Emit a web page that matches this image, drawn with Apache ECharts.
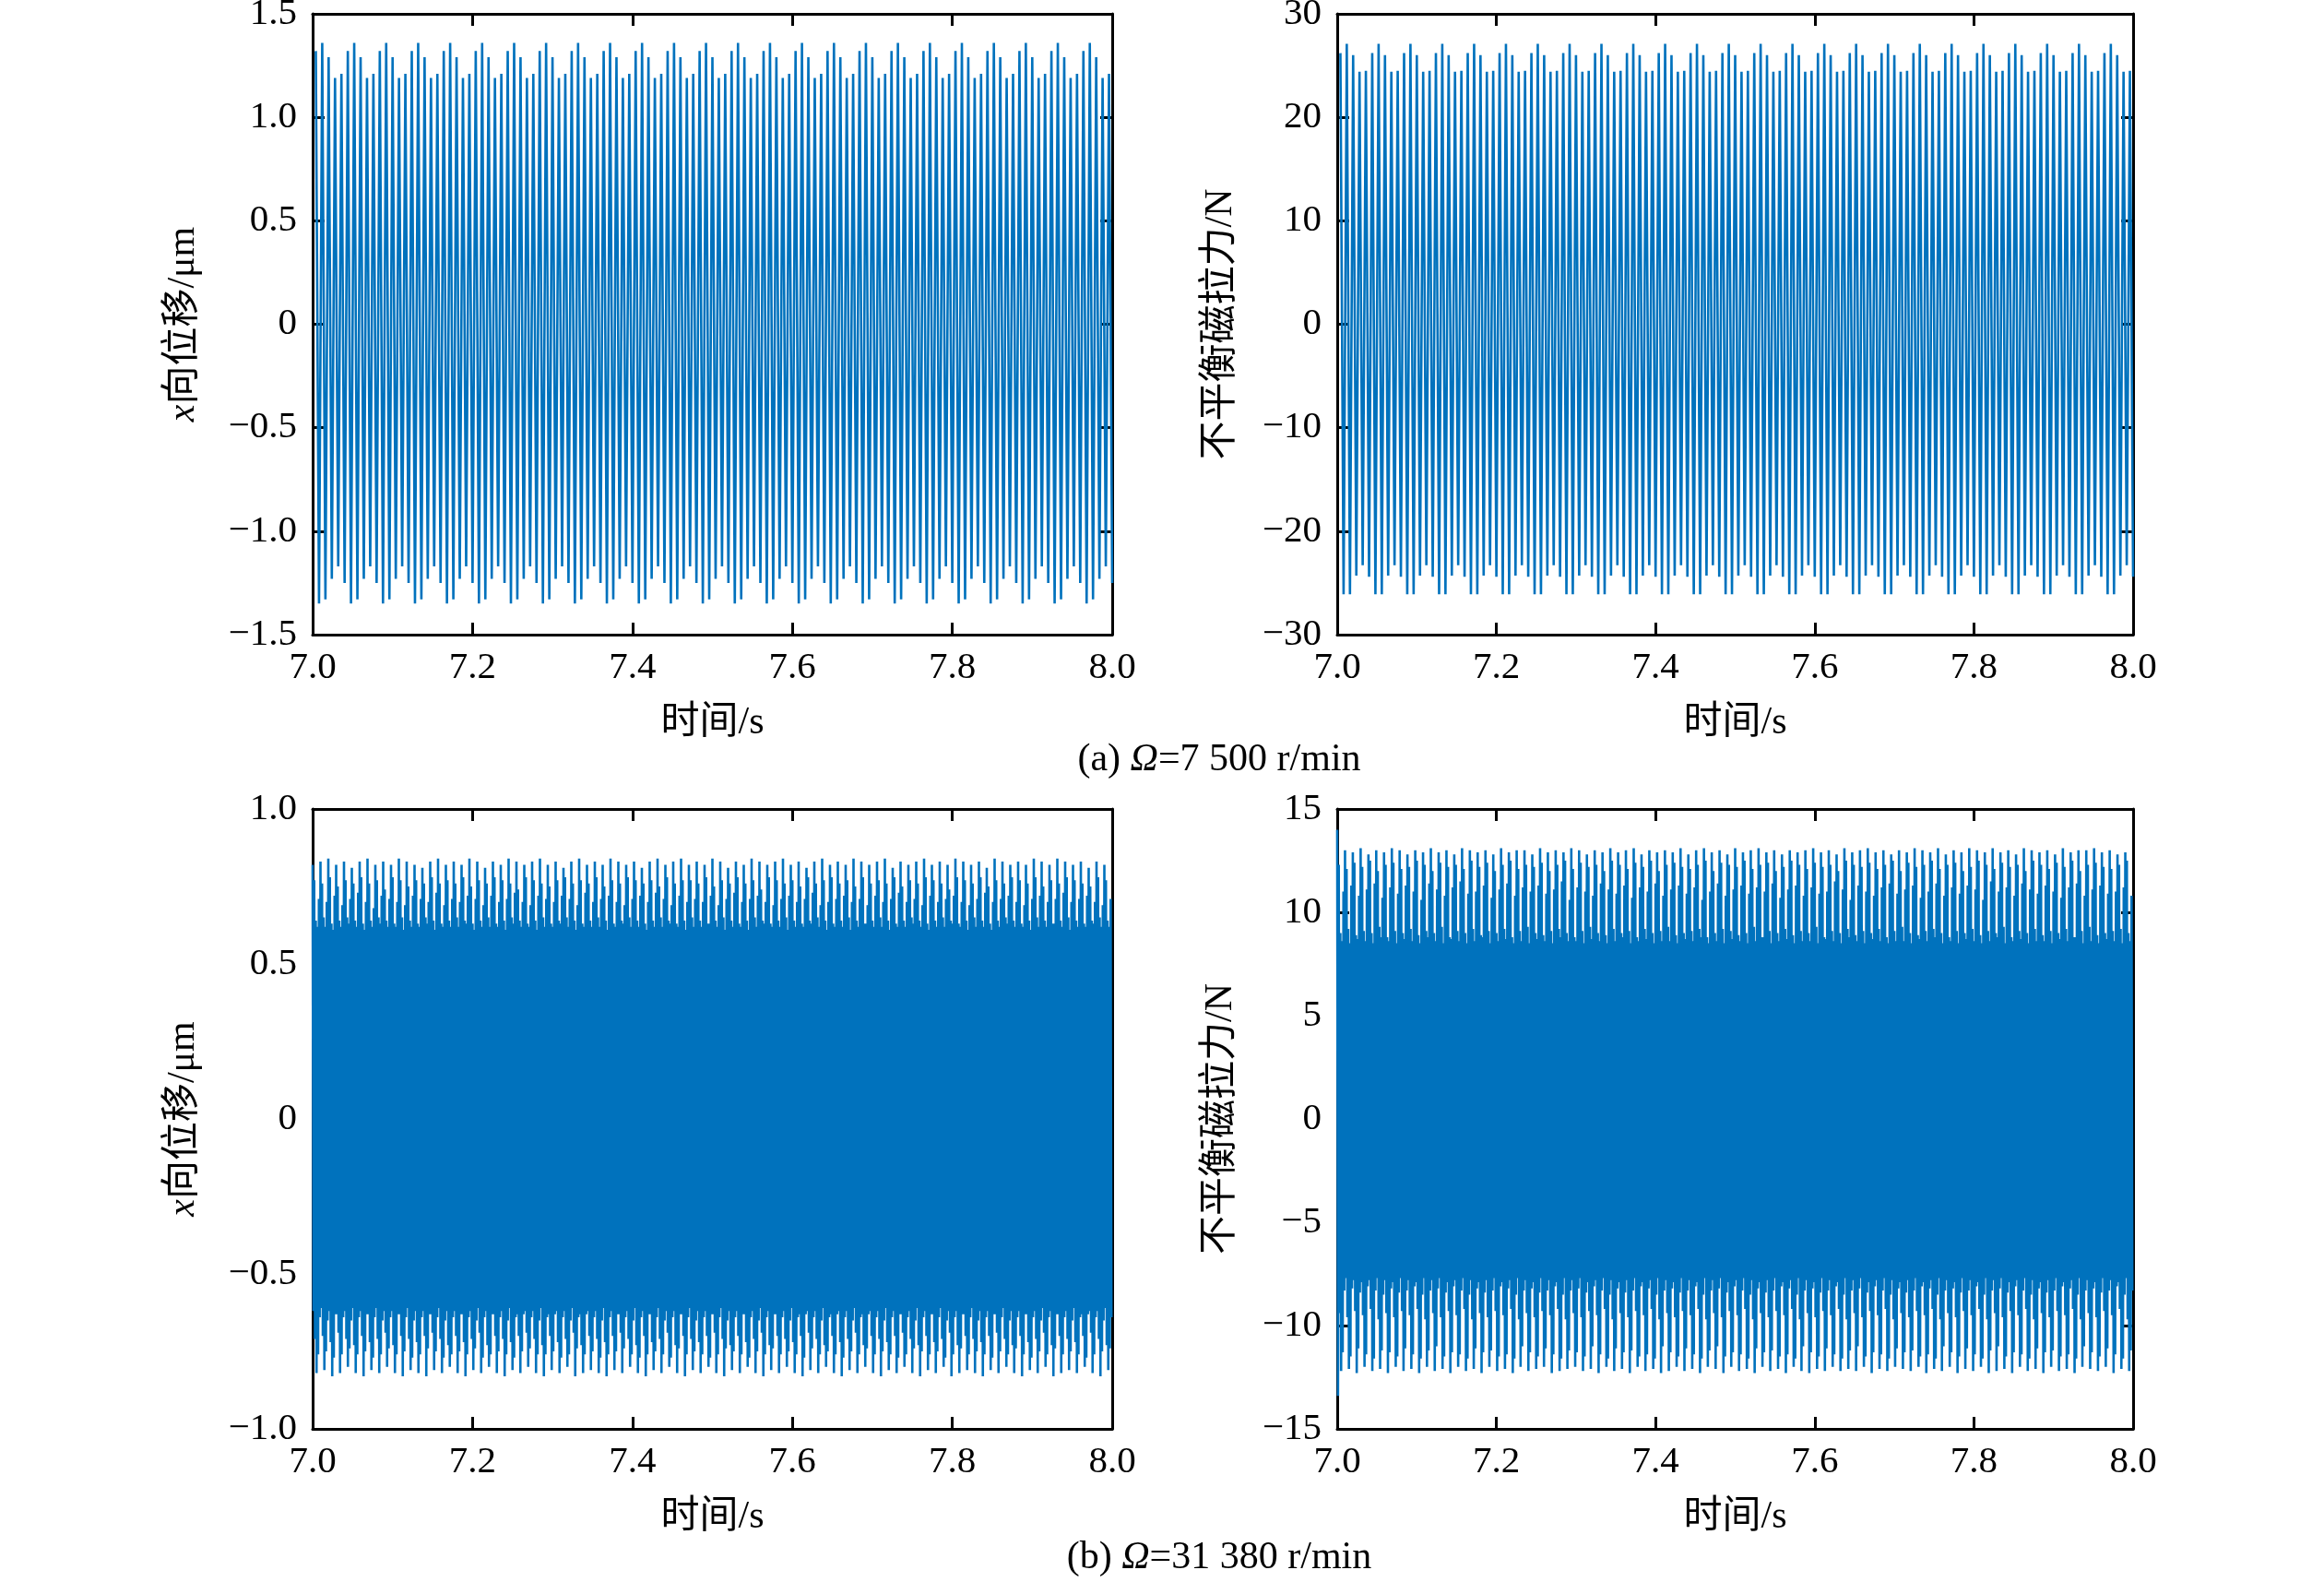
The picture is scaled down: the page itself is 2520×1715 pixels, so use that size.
<!DOCTYPE html>
<html><head><meta charset="utf-8">
<script src="https://cdn.jsdelivr.net/npm/echarts@6/dist/echarts.min.js"></script>
<style>html,body{margin:0;padding:0;background:#fff}#c{width:2520px;height:1715px}</style>
</head><body><div id="c"></div>
<script>
// ---------- axis definitions ----------
const timeRange = [7.0, 8.0, 0.2];            // x: min, max, interval (s)
const yRangeA_disp = [-1.5, 1.5, 0.5];        // (a) x displacement (μm)
const yRangeA_force = [-30, 30, 10];          // (a) unbalanced magnetic pull (N)
const yRangeB_disp = [-1.0, 1.0, 0.5];        // (b) x displacement (μm)
const yRangeB_force = [-15, 15, 5];           // (b) unbalanced magnetic pull (N)
const xName = '时间/s';
const yNameDisp = '{i|x}向位移/μm';
const yNameForce = '不平衡磁拉力/N';
const captions = ['(a) {i|Ω}=7 500 r/min', '(b) {i|Ω}=31 380 r/min'];
const phaseA = 0.004;   // time of first peak after 7.0 s, panel (a)
const phaseB = 0.0;     // panel (b)

// ---------- (a) Ω=7500 r/min : per-cycle peak / trough values ----------
const aDispPeaks = [
1.32,1.36,1.29,1.19,1.21, 1.32,1.36,1.29,1.19,1.21, 1.32,1.36,1.29,1.19,1.21, 1.32,1.36,1.29,1.19,1.21, 1.32,1.36,1.29,1.19,1.21,
1.32,1.36,1.29,1.19,1.21, 1.32,1.36,1.29,1.19,1.21, 1.32,1.36,1.29,1.19,1.21, 1.32,1.36,1.29,1.19,1.21, 1.32,1.36,1.29,1.19,1.21,
1.32,1.36,1.29,1.19,1.21, 1.32,1.36,1.29,1.19,1.21, 1.32,1.36,1.29,1.19,1.21, 1.32,1.36,1.29,1.19,1.21, 1.32,1.36,1.29,1.19,1.21,
1.32,1.36,1.29,1.19,1.21, 1.32,1.36,1.29,1.19,1.21, 1.32,1.36,1.29,1.19,1.21, 1.32,1.36,1.29,1.19,1.21, 1.32,1.36,1.29,1.19,1.21,
1.32,1.36,1.29,1.19,1.21, 1.32,1.36,1.29,1.19,1.21, 1.32,1.36,1.29,1.19,1.21, 1.32,1.36,1.29,1.19,1.21, 1.32,1.36,1.29,1.19,1.21
];
const aDispTroughs = [
-1.35,-1.33,-1.23,-1.17,-1.25, -1.35,-1.33,-1.23,-1.17,-1.25, -1.35,-1.33,-1.23,-1.17,-1.25, -1.35,-1.33,-1.23,-1.17,-1.25, -1.35,-1.33,-1.23,-1.17,-1.25,
-1.35,-1.33,-1.23,-1.17,-1.25, -1.35,-1.33,-1.23,-1.17,-1.25, -1.35,-1.33,-1.23,-1.17,-1.25, -1.35,-1.33,-1.23,-1.17,-1.25, -1.35,-1.33,-1.23,-1.17,-1.25,
-1.35,-1.33,-1.23,-1.17,-1.25, -1.35,-1.33,-1.23,-1.17,-1.25, -1.35,-1.33,-1.23,-1.17,-1.25, -1.35,-1.33,-1.23,-1.17,-1.25, -1.35,-1.33,-1.23,-1.17,-1.25,
-1.35,-1.33,-1.23,-1.17,-1.25, -1.35,-1.33,-1.23,-1.17,-1.25, -1.35,-1.33,-1.23,-1.17,-1.25, -1.35,-1.33,-1.23,-1.17,-1.25, -1.35,-1.33,-1.23,-1.17,-1.25,
-1.35,-1.33,-1.23,-1.17,-1.25, -1.35,-1.33,-1.23,-1.17,-1.25, -1.35,-1.33,-1.23,-1.17,-1.25, -1.35,-1.33,-1.23,-1.17,-1.25, -1.35,-1.33,-1.23,-1.17,-1.25
];
const aForcePeaks = [
26.2,27.1,26.0,24.4,24.5, 26.2,27.1,26.0,24.4,24.5, 26.2,27.1,26.0,24.4,24.5, 26.2,27.1,26.0,24.4,24.5, 26.2,27.1,26.0,24.4,24.5,
26.2,27.1,26.0,24.4,24.5, 26.2,27.1,26.0,24.4,24.5, 26.2,27.1,26.0,24.4,24.5, 26.2,27.1,26.0,24.4,24.5, 26.2,27.1,26.0,24.4,24.5,
26.2,27.1,26.0,24.4,24.5, 26.2,27.1,26.0,24.4,24.5, 26.2,27.1,26.0,24.4,24.5, 26.2,27.1,26.0,24.4,24.5, 26.2,27.1,26.0,24.4,24.5,
26.2,27.1,26.0,24.4,24.5, 26.2,27.1,26.0,24.4,24.5, 26.2,27.1,26.0,24.4,24.5, 26.2,27.1,26.0,24.4,24.5, 26.2,27.1,26.0,24.4,24.5,
26.2,27.1,26.0,24.4,24.5, 26.2,27.1,26.0,24.4,24.5, 26.2,27.1,26.0,24.4,24.5, 26.2,27.1,26.0,24.4,24.5, 26.2,27.1,26.0,24.4,24.5
];
const aForceTroughs = [
-26.1,-26.1,-24.3,-23.3,-24.4, -26.1,-26.1,-24.3,-23.3,-24.4, -26.1,-26.1,-24.3,-23.3,-24.4, -26.1,-26.1,-24.3,-23.3,-24.4, -26.1,-26.1,-24.3,-23.3,-24.4,
-26.1,-26.1,-24.3,-23.3,-24.4, -26.1,-26.1,-24.3,-23.3,-24.4, -26.1,-26.1,-24.3,-23.3,-24.4, -26.1,-26.1,-24.3,-23.3,-24.4, -26.1,-26.1,-24.3,-23.3,-24.4,
-26.1,-26.1,-24.3,-23.3,-24.4, -26.1,-26.1,-24.3,-23.3,-24.4, -26.1,-26.1,-24.3,-23.3,-24.4, -26.1,-26.1,-24.3,-23.3,-24.4, -26.1,-26.1,-24.3,-23.3,-24.4,
-26.1,-26.1,-24.3,-23.3,-24.4, -26.1,-26.1,-24.3,-23.3,-24.4, -26.1,-26.1,-24.3,-23.3,-24.4, -26.1,-26.1,-24.3,-23.3,-24.4, -26.1,-26.1,-24.3,-23.3,-24.4,
-26.1,-26.1,-24.3,-23.3,-24.4, -26.1,-26.1,-24.3,-23.3,-24.4, -26.1,-26.1,-24.3,-23.3,-24.4, -26.1,-26.1,-24.3,-23.3,-24.4, -26.1,-26.1,-24.3,-23.3,-24.4
];

// ---------- (b) Ω=31380 r/min : per-cycle peak / trough values ----------
const bDispPeaks = [
0.82,0.77,0.64,0.62,0.71, 0.83,0.76,0.65,0.62,0.70, 0.84,0.78,0.63,0.61,0.72, 0.82,0.75,0.64,0.62,0.69, 0.83,0.77,0.65,0.63,0.71, 0.81,0.76,0.64,0.62,0.73,
0.83,0.78,0.63,0.61,0.70, 0.84,0.76,0.64,0.62,0.68, 0.82,0.77,0.65,0.63,0.72, 0.83,0.74,0.64,0.62,0.71, 0.82,0.78,0.63,0.62,0.70, 0.84,0.77,0.65,0.61,0.69,
0.83,0.75,0.64,0.62,0.72, 0.82,0.77,0.63,0.62,0.71, 0.81,0.76,0.65,0.63,0.70, 0.83,0.78,0.64,0.61,0.73, 0.84,0.76,0.63,0.62,0.69, 0.82,0.77,0.64,0.62,0.71,
0.83,0.76,0.65,0.62,0.70, 0.82,0.78,0.64,0.63,0.72, 0.84,0.75,0.63,0.61,0.71, 0.83,0.77,0.64,0.62,0.69, 0.81,0.76,0.65,0.62,0.72, 0.83,0.78,0.63,0.62,0.70,
0.82,0.77,0.64,0.61,0.71, 0.84,0.76,0.65,0.63,0.73, 0.83,0.74,0.64,0.62,0.70, 0.82,0.78,0.63,0.62,0.69, 0.83,0.77,0.64,0.61,0.72, 0.84,0.76,0.65,0.62,0.71,
0.82,0.75,0.63,0.62,0.70, 0.83,0.77,0.64,0.63,0.72, 0.81,0.78,0.65,0.62,0.71, 0.83,0.76,0.64,0.61,0.69, 0.84,0.77,0.63,0.62,0.73, 0.82,0.76,0.64,0.62,0.70,
0.83,0.78,0.65,0.62,0.71, 0.82,0.75,0.64,0.61,0.72, 0.84,0.77,0.63,0.62,0.70, 0.83,0.76,0.64,0.63,0.69, 0.82,0.78,0.65,0.62,0.71, 0.83,0.77,0.64,0.62,0.72,
0.81,0.76,0.63,0.61,0.70, 0.83,0.77,0.64,0.62,0.73, 0.84,0.75,0.65,0.62,0.71, 0.82,0.78,0.64,0.63,0.69, 0.83,0.76,0.63,0.62,0.72, 0.84,0.77,0.64,0.61,0.70,
0.82,0.77,0.65,0.62,0.71, 0.83,0.76,0.64,0.62,0.70, 0.82,0.78,0.63,0.63,0.72, 0.84,0.75,0.64,0.62,0.69, 0.83,0.77,0.65,0.61,0.71, 0.81,0.76,0.64,0.62,0.73,
0.83,0.78,0.63,0.62,0.70, 0.82,0.76,0.64,0.61,0.71, 0.84,0.77,0.65,0.62,0.72, 0.83,0.74,0.64,0.63,0.70, 0.82,0.78,0.63,0.62,0.69, 0.83,0.77,0.64,0.62,0.71,
0.84,0.76,0.65,0.61,0.72, 0.82,0.77,0.64,0.62,0.70, 0.83,0.75,0.63,0.62,0.71, 0.81,0.78,0.64,0.63,0.73, 0.83,0.76,0.65,0.62,0.69, 0.84,0.77,0.64,0.61,0.70,
0.82,0.78,0.63,0.62,0.71, 0.83,0.76,0.64,0.62,0.72, 0.82,0.77,0.65,0.61,0.70, 0.84,0.75,0.64,0.62,0.71, 0.83,0.78,0.63,0.63,0.69, 0.82,0.76,0.64,0.62,0.72,
0.83,0.77,0.65,0.62,0.70, 0.84,0.76,0.64,0.61,0.71, 0.81,0.78,0.63,0.62,0.73, 0.83,0.75,0.64,0.62,0.70, 0.82,0.77,0.65,0.63,0.71, 0.83,0.76,0.64,0.62,0.69,
0.84,0.78,0.63,0.61,0.72, 0.82,0.77,0.64,0.62,0.70, 0.83,0.76,0.65,0.62,0.71, 0.82,0.74,0.64,0.63,0.72, 0.84,0.78,0.63,0.62,0.70, 0.83,0.77,0.64,0.61,0.69,
0.82,0.76,0.65,0.62,0.71, 0.83,0.78,0.64,0.62,0.73, 0.81,0.75,0.63,0.61,0.70, 0.84,0.77,0.64,0.62,0.71, 0.83,0.76,0.65,0.63,0.72, 0.82,0.78,0.64,0.62,0.70,
0.83,0.77,0.63,0.62,0.69, 0.82,0.76,0.64,0.61,0.71, 0.84,0.78,0.65,0.62,0.72, 0.83,0.75,0.64,0.62,0.70, 0.82,0.77,0.63,0.63,0.71, 0.84,0.76,0.64,0.62,0.73,
0.83,0.78,0.65,0.61,0.70, 0.82,0.77,0.64,0.62,0.71, 0.83,0.76,0.63,0.62,0.72, 0.81,0.75,0.64,0.63,0.70, 0.83,0.78,0.65,0.62,0.69, 0.82,0.77,0.64,0.62,0.71
];
const bDispTroughs = [
-0.62,-0.71,-0.82,-0.76,-0.64, -0.61,-0.70,-0.81,-0.75,-0.65, -0.62,-0.72,-0.83,-0.77,-0.63, -0.63,-0.69,-0.82,-0.76,-0.64, -0.62,-0.71,-0.80,-0.74,-0.65, -0.61,-0.73,-0.82,-0.76,-0.64,
-0.62,-0.70,-0.83,-0.75,-0.63, -0.63,-0.72,-0.81,-0.77,-0.64, -0.61,-0.71,-0.82,-0.76,-0.65, -0.62,-0.69,-0.80,-0.74,-0.64, -0.62,-0.73,-0.82,-0.76,-0.63, -0.63,-0.70,-0.83,-0.75,-0.64,
-0.61,-0.71,-0.81,-0.77,-0.65, -0.62,-0.72,-0.82,-0.76,-0.64, -0.62,-0.70,-0.83,-0.74,-0.63, -0.63,-0.69,-0.81,-0.75,-0.64, -0.61,-0.71,-0.82,-0.77,-0.65, -0.62,-0.73,-0.80,-0.76,-0.64,
-0.62,-0.70,-0.82,-0.75,-0.63, -0.63,-0.72,-0.83,-0.76,-0.64, -0.62,-0.71,-0.81,-0.74,-0.65, -0.61,-0.69,-0.82,-0.77,-0.64, -0.62,-0.73,-0.80,-0.76,-0.63, -0.63,-0.70,-0.82,-0.75,-0.64,
-0.62,-0.71,-0.83,-0.76,-0.65, -0.61,-0.72,-0.81,-0.77,-0.64, -0.63,-0.70,-0.82,-0.75,-0.63, -0.62,-0.69,-0.80,-0.74,-0.64, -0.62,-0.71,-0.82,-0.76,-0.65, -0.61,-0.73,-0.83,-0.76,-0.64,
-0.63,-0.70,-0.81,-0.75,-0.63, -0.62,-0.72,-0.82,-0.77,-0.64, -0.62,-0.71,-0.80,-0.76,-0.65, -0.61,-0.69,-0.83,-0.74,-0.64, -0.63,-0.73,-0.82,-0.76,-0.63, -0.62,-0.70,-0.81,-0.75,-0.64,
-0.62,-0.71,-0.82,-0.77,-0.65, -0.61,-0.72,-0.83,-0.76,-0.64, -0.62,-0.70,-0.81,-0.75,-0.63, -0.63,-0.69,-0.82,-0.74,-0.64, -0.62,-0.71,-0.80,-0.76,-0.65, -0.61,-0.73,-0.82,-0.77,-0.64,
-0.62,-0.70,-0.83,-0.76,-0.63, -0.63,-0.72,-0.81,-0.75,-0.64, -0.61,-0.71,-0.82,-0.76,-0.65, -0.62,-0.69,-0.80,-0.77,-0.64, -0.62,-0.73,-0.82,-0.74,-0.63, -0.63,-0.70,-0.83,-0.76,-0.64,
-0.61,-0.71,-0.81,-0.75,-0.65, -0.62,-0.72,-0.82,-0.76,-0.64, -0.62,-0.70,-0.80,-0.77,-0.63, -0.63,-0.69,-0.82,-0.76,-0.64, -0.61,-0.71,-0.83,-0.74,-0.65, -0.62,-0.73,-0.81,-0.75,-0.64,
-0.62,-0.70,-0.82,-0.76,-0.63, -0.63,-0.72,-0.80,-0.77,-0.64, -0.62,-0.71,-0.82,-0.75,-0.65, -0.61,-0.69,-0.83,-0.76,-0.64, -0.62,-0.73,-0.81,-0.74,-0.63, -0.63,-0.70,-0.82,-0.76,-0.64,
-0.62,-0.71,-0.80,-0.75,-0.65, -0.61,-0.72,-0.82,-0.76,-0.64, -0.63,-0.70,-0.83,-0.77,-0.63, -0.62,-0.69,-0.81,-0.74,-0.64, -0.62,-0.71,-0.82,-0.76,-0.65, -0.61,-0.73,-0.80,-0.75,-0.64,
-0.63,-0.70,-0.82,-0.76,-0.63, -0.62,-0.72,-0.83,-0.77,-0.64, -0.62,-0.71,-0.81,-0.75,-0.65, -0.61,-0.69,-0.82,-0.76,-0.64, -0.63,-0.73,-0.80,-0.74,-0.63, -0.62,-0.70,-0.82,-0.76,-0.64,
-0.62,-0.71,-0.83,-0.75,-0.65, -0.61,-0.72,-0.81,-0.76,-0.64, -0.62,-0.70,-0.82,-0.77,-0.63, -0.63,-0.69,-0.80,-0.76,-0.64, -0.62,-0.71,-0.82,-0.74,-0.65, -0.61,-0.73,-0.83,-0.75,-0.64,
-0.62,-0.70,-0.81,-0.76,-0.63, -0.63,-0.72,-0.82,-0.75,-0.64, -0.61,-0.71,-0.80,-0.77,-0.65, -0.62,-0.69,-0.83,-0.76,-0.64, -0.62,-0.73,-0.82,-0.74,-0.63, -0.63,-0.70,-0.81,-0.76,-0.64,
-0.61,-0.71,-0.82,-0.75,-0.65, -0.62,-0.72,-0.83,-0.76,-0.64, -0.62,-0.70,-0.81,-0.77,-0.63, -0.63,-0.69,-0.82,-0.75,-0.64, -0.61,-0.71,-0.80,-0.76,-0.65, -0.62,-0.73,-0.82,-0.74,-0.64,
-0.62,-0.70,-0.83,-0.76,-0.63, -0.63,-0.72,-0.81,-0.77,-0.64, -0.62,-0.71,-0.82,-0.75,-0.65, -0.61,-0.69,-0.80,-0.76,-0.64, -0.62,-0.73,-0.83,-0.74,-0.63, -0.63,-0.70,-0.82,-0.76,-0.64,
-0.62,-0.71,-0.81,-0.75,-0.65, -0.61,-0.72,-0.82,-0.76,-0.64, -0.63,-0.70,-0.80,-0.77,-0.63, -0.62,-0.69,-0.82,-0.76,-0.64, -0.62,-0.71,-0.83,-0.75,-0.65, -0.61,-0.73,-0.81,-0.74,-0.64
];
const bForcePeaks = [
14.0,12.3,9.0,8.6,11.0, 13.0,12.1,9.2,8.5,11.3, 12.9,12.4,8.9,8.7,10.8, 13.1,12.2,9.1,8.6,11.1, 12.8,12.5,9.0,8.5,11.4, 13.0,12.0,9.3,8.8,10.7,
12.9,12.3,8.8,8.6,11.2, 13.1,12.4,9.1,8.5,10.9, 13.0,12.1,9.0,8.7,11.3, 12.8,12.2,9.2,8.6,11.0, 13.0,12.5,8.9,8.5,10.6, 12.9,12.3,9.1,8.8,11.4,
13.1,12.0,9.0,8.6,11.1, 12.9,12.4,9.3,8.5,10.8, 13.0,12.2,8.8,8.7,11.2, 12.8,12.3,9.1,8.6,11.5, 13.1,12.1,9.0,8.5,10.9, 13.0,12.5,9.2,8.6,11.0,
12.9,12.2,8.9,8.8,11.3, 13.0,12.4,9.1,8.5,10.7, 12.8,12.0,9.0,8.6,11.1, 13.1,12.3,9.2,8.7,11.4, 12.9,12.5,8.8,8.5,10.8, 13.0,12.1,9.1,8.6,11.2,
13.0,12.3,9.3,8.5,11.0, 12.8,12.2,9.0,8.7,11.3, 13.1,12.4,8.9,8.6,10.9, 12.9,12.0,9.1,8.5,11.1, 13.0,12.3,9.2,8.8,11.5, 12.9,12.5,9.0,8.6,10.6,
13.1,12.1,8.8,8.6,11.2, 13.0,12.4,9.1,8.5,11.0, 12.8,12.2,9.3,8.7,10.8, 13.0,12.3,9.0,8.6,11.4, 12.9,12.0,8.9,8.5,11.1, 13.1,12.5,9.2,8.6,10.9,
12.9,12.3,9.0,8.8,11.3, 13.0,12.1,9.1,8.5,10.7, 13.1,12.4,8.8,8.6,11.2, 12.8,12.2,9.2,8.7,11.0, 13.0,12.5,9.0,8.5,11.4, 12.9,12.0,9.1,8.6,10.8,
13.0,12.3,9.3,8.6,11.1, 12.9,12.4,8.9,8.5,11.3, 13.1,12.2,9.0,8.7,10.9, 12.8,12.1,9.1,8.6,11.2, 13.0,12.3,9.2,8.8,10.6, 13.1,12.5,8.8,8.5,11.0,
12.9,12.0,9.0,8.6,11.4, 13.0,12.4,9.2,8.5,10.8, 12.8,12.3,9.1,8.7,11.1, 13.1,12.2,8.9,8.6,11.3, 12.9,12.5,9.0,8.5,10.9, 13.0,12.1,9.3,8.6,11.2,
13.1,12.3,8.8,8.8,11.0, 12.9,12.4,9.1,8.5,11.4, 13.0,12.0,9.0,8.6,10.7, 12.8,12.2,9.2,8.7,11.1, 13.0,12.5,8.9,8.5,11.3, 12.9,12.3,9.1,8.6,10.8,
13.0,12.1,9.0,8.6,11.2, 13.1,12.4,9.3,8.5,10.9, 12.9,12.2,8.8,8.7,11.0, 13.0,12.3,9.1,8.6,11.5, 12.8,12.0,9.0,8.5,11.1, 13.1,12.5,9.2,8.8,10.6,
12.9,12.3,8.9,8.6,11.3, 13.0,12.2,9.1,8.5,11.0, 13.1,12.4,9.0,8.7,10.8, 12.9,12.1,9.2,8.6,11.2, 13.0,12.3,8.8,8.5,11.4, 12.8,12.5,9.1,8.6,10.9,
13.0,12.0,9.3,8.6,11.1, 12.9,12.4,9.0,8.5,11.3, 13.1,12.2,8.9,8.7,10.7, 13.0,12.3,9.1,8.6,11.0, 12.9,12.5,9.2,8.8,11.4, 13.1,12.1,9.0,8.5,10.8,
12.8,12.3,8.8,8.6,11.2, 13.0,12.4,9.1,8.5,10.9, 12.9,12.0,9.0,8.7,11.3, 13.1,12.2,9.2,8.6,11.1, 13.0,12.5,8.9,8.5,10.6, 12.9,12.3,9.1,8.6,11.5,
13.1,12.1,9.0,8.8,11.0, 12.9,12.4,9.3,8.5,11.2, 13.0,12.2,8.8,8.6,10.8, 12.8,12.3,9.1,8.7,11.4, 13.1,12.0,9.0,8.5,11.1, 13.0,12.5,9.2,8.6,10.9,
12.9,12.3,8.9,8.6,11.3, 13.0,12.1,9.1,8.5,11.0, 12.8,12.4,9.0,8.7,10.7, 13.1,12.2,9.2,8.6,11.2, 12.9,12.5,8.8,8.8,11.4, 13.0,12.0,9.1,8.5,10.8,
13.0,12.3,9.3,8.6,11.1, 13.1,12.4,8.9,8.5,11.3, 12.9,12.2,9.0,8.7,10.9, 13.0,12.1,9.1,8.6,11.0, 12.8,12.3,9.2,8.5,11.2, 12.9,12.5,9.0,8.6,10.8
];
const bForceTroughs = [
-13.4,-9.4,-12.2,-11.3,-8.3, -7.7,-9.6,-12.1,-11.5,-8.2, -7.8,-9.3,-12.3,-11.1,-8.4, -7.9,-9.5,-12.0,-11.4,-8.1, -7.8,-9.2,-12.2,-11.6,-8.3, -7.7,-9.7,-12.1,-11.2,-8.5,
-7.8,-9.4,-12.3,-11.3,-8.2, -7.9,-9.6,-12.0,-11.5,-8.4, -7.7,-9.3,-12.2,-11.1,-8.3, -7.8,-9.5,-12.1,-11.4,-8.1, -7.9,-9.2,-12.3,-11.6,-8.5, -7.7,-9.7,-12.0,-11.2,-8.3,
-7.8,-9.4,-12.2,-11.0,-8.2, -7.7,-9.6,-12.1,-11.5,-8.4, -7.9,-9.3,-12.3,-11.3,-8.1, -7.8,-9.5,-12.0,-11.4,-8.3, -7.7,-9.2,-12.2,-11.6,-8.5, -7.8,-9.7,-12.1,-11.1,-8.2,
-7.9,-9.4,-12.3,-11.3,-8.4, -7.8,-9.6,-12.0,-11.2,-8.3, -7.7,-9.3,-12.2,-11.5,-8.1, -7.9,-9.5,-12.1,-11.4,-8.2, -7.8,-9.2,-12.3,-11.6,-8.5, -7.7,-9.7,-12.0,-11.0,-8.3,
-7.8,-9.4,-12.2,-11.3,-8.2, -7.9,-9.6,-12.1,-11.5,-8.4, -7.7,-9.3,-12.0,-11.1,-8.3, -7.8,-9.5,-12.3,-11.4,-8.1, -7.9,-9.2,-12.2,-11.6,-8.5, -7.7,-9.7,-12.1,-11.2,-8.3,
-7.8,-9.4,-12.0,-11.3,-8.2, -7.7,-9.6,-12.2,-11.5,-8.4, -7.9,-9.3,-12.1,-11.0,-8.1, -7.8,-9.5,-12.3,-11.4,-8.3, -7.7,-9.2,-12.0,-11.6,-8.5, -7.8,-9.7,-12.2,-11.1,-8.2,
-7.9,-9.4,-12.1,-11.3,-8.4, -7.8,-9.6,-12.3,-11.2,-8.3, -7.7,-9.3,-12.0,-11.5,-8.1, -7.9,-9.5,-12.2,-11.4,-8.2, -7.8,-9.2,-12.1,-11.6,-8.5, -7.7,-9.7,-12.3,-11.0,-8.3,
-7.8,-9.4,-12.2,-11.3,-8.2, -7.9,-9.6,-12.0,-11.5,-8.4, -7.7,-9.3,-12.2,-11.1,-8.3, -7.8,-9.5,-12.1,-11.4,-8.1, -7.9,-9.2,-12.3,-11.6,-8.5, -7.7,-9.7,-12.0,-11.2,-8.3,
-7.8,-9.4,-12.1,-11.0,-8.2, -7.7,-9.6,-12.3,-11.5,-8.4, -7.9,-9.3,-12.0,-11.3,-8.1, -7.8,-9.5,-12.2,-11.4,-8.3, -7.7,-9.2,-12.1,-11.6,-8.5, -7.8,-9.7,-12.3,-11.1,-8.2,
-7.9,-9.4,-12.0,-11.3,-8.4, -7.8,-9.6,-12.2,-11.2,-8.3, -7.7,-9.3,-12.1,-11.5,-8.1, -7.9,-9.5,-12.3,-11.4,-8.2, -7.8,-9.2,-12.0,-11.6,-8.5, -7.7,-9.7,-12.2,-11.0,-8.3,
-7.8,-9.4,-12.3,-11.3,-8.2, -7.9,-9.6,-12.1,-11.5,-8.4, -7.7,-9.3,-12.2,-11.1,-8.3, -7.8,-9.5,-12.0,-11.4,-8.1, -7.9,-9.2,-12.2,-11.6,-8.5, -7.7,-9.7,-12.1,-11.2,-8.3,
-7.8,-9.4,-12.2,-11.0,-8.2, -7.7,-9.6,-12.0,-11.5,-8.4, -7.9,-9.3,-12.3,-11.3,-8.1, -7.8,-9.5,-12.1,-11.4,-8.3, -7.7,-9.2,-12.2,-11.6,-8.5, -7.8,-9.7,-12.0,-11.1,-8.2,
-7.9,-9.4,-12.1,-11.3,-8.4, -7.8,-9.6,-12.2,-11.2,-8.3, -7.7,-9.3,-12.0,-11.5,-8.1, -7.9,-9.5,-12.3,-11.4,-8.2, -7.8,-9.2,-12.1,-11.6,-8.5, -7.7,-9.7,-12.2,-11.0,-8.3,
-7.8,-9.4,-12.0,-11.3,-8.2, -7.9,-9.6,-12.3,-11.5,-8.4, -7.7,-9.3,-12.1,-11.1,-8.3, -7.8,-9.5,-12.2,-11.4,-8.1, -7.9,-9.2,-12.0,-11.6,-8.5, -7.7,-9.7,-12.3,-11.2,-8.3,
-7.8,-9.4,-12.2,-11.0,-8.2, -7.7,-9.6,-12.1,-11.5,-8.4, -7.9,-9.3,-12.3,-11.3,-8.1, -7.8,-9.5,-12.0,-11.4,-8.3, -7.7,-9.2,-12.2,-11.6,-8.5, -7.8,-9.7,-12.1,-11.1,-8.2,
-7.9,-9.4,-12.3,-11.3,-8.4, -7.8,-9.6,-12.0,-11.2,-8.3, -7.7,-9.3,-12.2,-11.5,-8.1, -7.9,-9.5,-12.1,-11.4,-8.2, -7.8,-9.2,-12.3,-11.6,-8.5, -7.7,-9.7,-12.0,-11.0,-8.3,
-7.8,-9.4,-12.1,-11.3,-8.2, -7.9,-9.6,-12.2,-11.5,-8.4, -7.7,-9.3,-12.0,-11.1,-8.3, -7.8,-9.5,-12.3,-11.4,-8.1, -7.9,-9.2,-12.1,-11.6,-8.5, -7.7,-9.7,-12.2,-11.2,-8.3
];

// ---------- build time-series from peaks/troughs on a uniform cycle grid ----------
function buildSeries(peaks, troughs, phase) {
  const n = Math.min(peaks.length, troughs.length);
  const period = (timeRange[1] - timeRange[0]) / peaks.length;
  const pts = [];
  for (let k = 0; k < n; k++) {
    const t = timeRange[0] + phase + k * period;
    pts.push([t, peaks[k]]);
    pts.push([t + period / 2, troughs[k]]);
  }
  return pts;
}

const FONT = '"Liberation Serif", "Times New Roman", "Noto Sans CJK SC", serif';
const BLACK = '#000';
const LINE = '#0072BD';

function fmtY(dec) {
  return function (v) {
    if (Math.abs(v) < 1e-9) return '0';
    const s = Math.abs(v).toFixed(dec);
    return v < 0 ? '\u2212' + s : s;
  };
}

const grids = [
  { left: 339, top: 15, width: 867, height: 673 },
  { left: 1450, top: 15, width: 863, height: 673 },
  { left: 339, top: 877, width: 867, height: 672 },
  { left: 1450, top: 877, width: 863, height: 672 }
];

const yRanges = [yRangeA_disp, yRangeA_force, yRangeB_disp, yRangeB_force];
const yNames = [yNameDisp, yNameForce, yNameDisp, yNameForce];
const yDec = [1, 0, 1, 0];
const yGaps = [140, 126, 140, 126];

const axisLine = { onZero: false, lineStyle: { color: BLACK, width: 3 } };
const axisTick = { inside: true, length: 13, lineStyle: { color: BLACK, width: 3 } };
const nameStyle = {
  color: BLACK, fontSize: 42, fontFamily: FONT, verticalAlign: 'middle',
  rich: { i: { fontStyle: 'italic', fontSize: 42, fontFamily: FONT, color: BLACK } }
};

const xAxes = [], yAxes = [];
for (let g = 0; g < 4; g++) {
  xAxes.push({
    type: 'value', gridIndex: g, position: 'bottom',
    min: timeRange[0], max: timeRange[1], interval: timeRange[2],
    axisLine, axisTick, splitLine: { show: false },
    axisLabel: { color: BLACK, fontSize: 41, fontFamily: FONT, margin: 16, formatter: v => v.toFixed(1) },
    name: xName, nameLocation: 'middle', nameGap: 96, nameTextStyle: nameStyle
  });
}
for (let g = 0; g < 4; g++) {
  xAxes.push({
    type: 'value', gridIndex: g, position: 'top',
    min: timeRange[0], max: timeRange[1], interval: timeRange[2],
    axisLine, axisTick, splitLine: { show: false }, axisLabel: { show: false }
  });
}
for (let g = 0; g < 4; g++) {
  const r = yRanges[g];
  yAxes.push({
    type: 'value', gridIndex: g, position: 'left',
    min: r[0], max: r[1], interval: r[2],
    axisLine, axisTick, splitLine: { show: false },
    axisLabel: { color: BLACK, fontSize: 41, fontFamily: FONT, margin: 17, formatter: fmtY(yDec[g]) },
    name: yNames[g], nameLocation: 'middle', nameGap: yGaps[g], nameRotate: 90, nameTextStyle: nameStyle
  });
}
for (let g = 0; g < 4; g++) {
  const r = yRanges[g];
  yAxes.push({
    type: 'value', gridIndex: g, position: 'right',
    min: r[0], max: r[1], interval: r[2],
    axisLine, axisTick, splitLine: { show: false }, axisLabel: { show: false }
  });
}

const seriesData = [
  buildSeries(aDispPeaks, aDispTroughs, phaseA),
  buildSeries(aForcePeaks, aForceTroughs, phaseA),
  buildSeries(bDispPeaks, bDispTroughs, phaseB),
  buildSeries(bForcePeaks, bForceTroughs, phaseB)
];

const series = seriesData.map((d, g) => ({
  type: 'line', xAxisIndex: g, yAxisIndex: g, data: d,
  symbol: 'none', showSymbol: false, smooth: false, clip: true,
  lineStyle: { color: LINE, width: 2.6 }, silent: true
}));

const captionStyle = {
  color: BLACK, fontSize: 42, fontFamily: FONT, fontWeight: 'normal',
  rich: { i: { fontStyle: 'italic', fontSize: 42, fontFamily: FONT, color: BLACK } }
};

const chart = echarts.init(document.getElementById('c'), null, { renderer: 'canvas' });
chart.setOption({
  animation: false,
  backgroundColor: '#fff',
  title: [
    { text: captions[0], left: 1322, top: 803, textAlign: 'center', padding: 0, textStyle: captionStyle },
    { text: captions[1], left: 1322, top: 1668, textAlign: 'center', padding: 0, textStyle: captionStyle }
  ],
  grid: grids.map(g => Object.assign({ containLabel: false, outerBoundsMode: 'none' }, g)),
  xAxis: xAxes,
  yAxis: yAxes,
  series
});
</script>
</body></html>
